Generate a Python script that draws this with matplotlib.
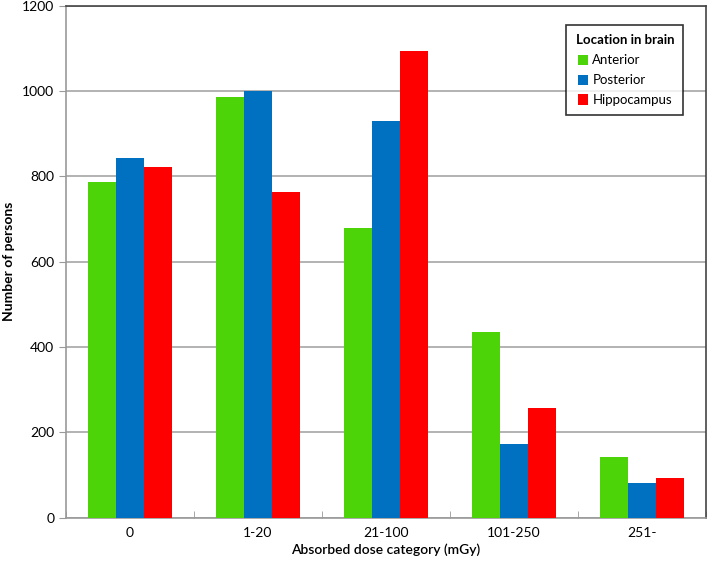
import numpy as np
import matplotlib.pyplot as plt

categories = ["0", "1-20", "21-100", "101-250", "251-"]
anterior = [786, 985, 680, 436, 143]
posterior = [844, 999, 930, 172, 81]
hippocampus = [823, 764, 1093, 256, 92]

series_names = ["Anterior", "Posterior", "Hippocampus"]
colors = ["#4CD408", "#0070C0", "#FF0000"]

plt.rcParams["font.family"] = ["Lato", "DejaVu Sans"]

fig = plt.figure(figsize=(7.08, 5.64), dpi=100)
ax = fig.add_axes([0.0932, 0.0821, 0.904, 0.9078])

x = np.arange(len(categories))
bar_width = 0.219
for i, (values, name, color) in enumerate(zip([anterior, posterior, hippocampus], series_names, colors)):
    ax.bar(x + (i - 1) * bar_width, values, width=bar_width, color=color, label=name, zorder=3)

ax.set_xlim(-0.5, len(categories) - 0.5)
ax.set_ylim(0, 1200)
ax.set_yticks(np.arange(0, 1201, 200))
ax.set_xticks(x)
ax.set_xticklabels(categories, fontsize=10)
ax.set_xticks(np.arange(-0.5, len(categories), 1.0), minor=True)
ax.tick_params(axis="x", which="major", length=0, pad=7)
ax.tick_params(axis="x", which="minor", length=5, color="#999999", direction="in")
ax.tick_params(axis="y", length=5, color="#999999", labelsize=10)
ax.yaxis.grid(True, color="#a6a6a6", linewidth=1.2, zorder=0)

for side in ["left", "bottom"]:
    ax.spines[side].set_color("#999999")
    ax.spines[side].set_linewidth(1.2)
for side in ["top", "right"]:
    ax.spines[side].set_color("#444444")
    ax.spines[side].set_linewidth(1.2)

ax.set_xlabel("Absorbed dose category (mGy)", fontsize=10, fontweight="semibold", labelpad=3)
ax.set_ylabel("Number of persons", fontsize=10, fontweight="bold", labelpad=5)

leg = ax.legend(title="Location in brain", loc="upper right", bbox_to_anchor=(0.975, 0.975),
                fontsize=9.5, title_fontproperties={"weight": "bold", "size": 9.5},
                frameon=True, fancybox=False, edgecolor="black", handlelength=0.8,
                handleheight=0.8, handletextpad=0.3, borderpad=0.7, labelspacing=0.6)
leg.get_frame().set_linewidth(1.2)
leg.set_zorder(5)

fig.savefig("out.png", dpi=100)
